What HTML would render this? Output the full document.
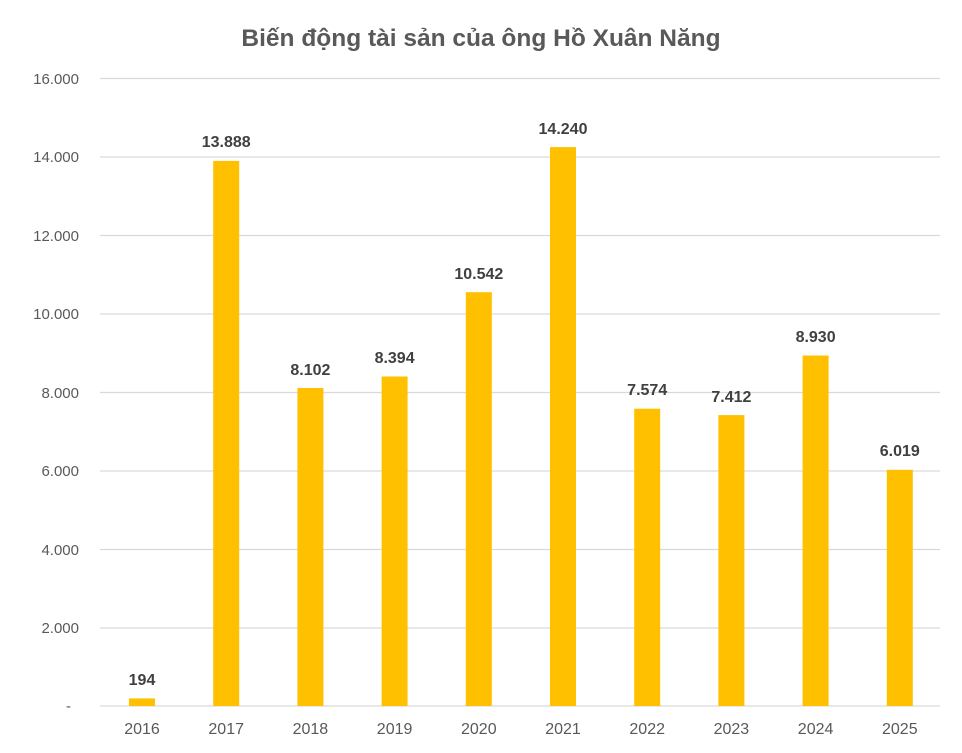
<!DOCTYPE html>
<html><head><meta charset="utf-8"><style>
html,body{margin:0;padding:0;background:#fff;}
svg{display:block;font-family:"Liberation Sans",Arial,sans-serif;}
</style></head><body>
<svg width="962" height="753" viewBox="0 0 962 753" xmlns="http://www.w3.org/2000/svg">
<rect width="962" height="753" fill="#fff"/>
<text x="481" y="46" text-anchor="middle" font-size="24.5" font-weight="bold" fill="#595959">Biến động tài sản của ông Hồ Xuân Năng</text>
<g stroke="#d9d9d9" stroke-width="1.3">
<line x1="100" x2="940" y1="78.5" y2="78.5"/>
<line x1="100" x2="940" y1="157" y2="157"/>
<line x1="100" x2="940" y1="235.5" y2="235.5"/>
<line x1="100" x2="940" y1="314" y2="314"/>
<line x1="100" x2="940" y1="392.5" y2="392.5"/>
<line x1="100" x2="940" y1="471" y2="471"/>
<line x1="100" x2="940" y1="549.5" y2="549.5"/>
<line x1="100" x2="940" y1="628" y2="628"/>
<line x1="100" x2="940" y1="706" y2="706"/>
</g>
<g font-size="15" fill="#595959" text-anchor="end">
<text x="79" y="84">16.000</text>
<text x="79" y="162">14.000</text>
<text x="79" y="241">12.000</text>
<text x="79" y="319">10.000</text>
<text x="79" y="398">8.000</text>
<text x="79" y="476">6.000</text>
<text x="79" y="555">4.000</text>
<text x="79" y="633">2.000</text>
<text x="71" y="711">-</text>
</g>
<g fill="#FFC000">
<rect x="129" y="698.4" width="26" height="7.6"/>
<rect x="213.2" y="160.9" width="26" height="545.1"/>
<rect x="297.4" y="388" width="26" height="318"/>
<rect x="381.6" y="376.5" width="26" height="329.5"/>
<rect x="465.8" y="292.2" width="26" height="413.8"/>
<rect x="550" y="147.1" width="26" height="558.9"/>
<rect x="634.2" y="408.7" width="26" height="297.3"/>
<rect x="718.4" y="415.1" width="26" height="290.9"/>
<rect x="802.6" y="355.5" width="26" height="350.5"/>
<rect x="886.8" y="469.8" width="26" height="236.2"/>
</g>
<g font-size="16" font-weight="bold" fill="#404040" text-anchor="middle">
<text x="142" y="685">194</text>
<text x="226.2" y="147">13.888</text>
<text x="310.4" y="375">8.102</text>
<text x="394.6" y="363">8.394</text>
<text x="478.8" y="279">10.542</text>
<text x="563" y="134">14.240</text>
<text x="647.2" y="395">7.574</text>
<text x="731.4" y="402">7.412</text>
<text x="815.6" y="342">8.930</text>
<text x="899.8" y="456">6.019</text>
</g>
<g font-size="16" fill="#595959" text-anchor="middle">
<text x="142" y="734">2016</text>
<text x="226.2" y="734">2017</text>
<text x="310.4" y="734">2018</text>
<text x="394.6" y="734">2019</text>
<text x="478.8" y="734">2020</text>
<text x="563" y="734">2021</text>
<text x="647.2" y="734">2022</text>
<text x="731.4" y="734">2023</text>
<text x="815.6" y="734">2024</text>
<text x="899.8" y="734">2025</text>
</g>
</svg>
</body></html>
